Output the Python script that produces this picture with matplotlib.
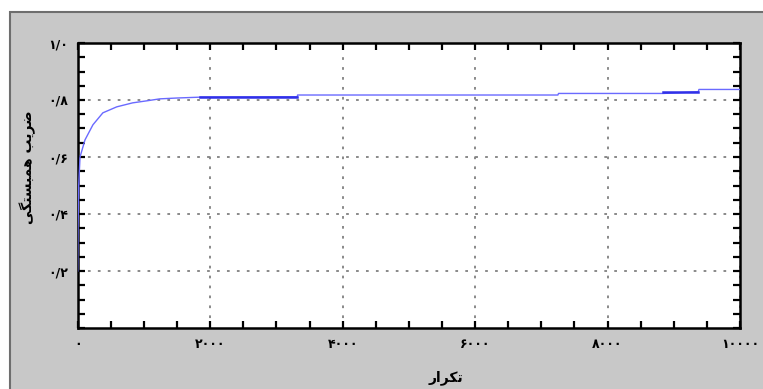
import matplotlib
matplotlib.use('Agg')
from matplotlib import pyplot as plt
from matplotlib.patches import Rectangle

# data (iteration vs. correlation coefficient)
iters = [0, 5, 15, 35, 110, 230, 380, 590, 830, 1040, 1240, 1500, 1850,
         3315, 3320, 6400, 7250, 7260, 8840, 9370, 9380, 10000]
corr = [0.20, 0.35, 0.50, 0.60, 0.66, 0.713, 0.755, 0.776, 0.79, 0.797,
        0.804, 0.807, 0.810, 0.8115, 0.8175, 0.8175, 0.8175, 0.823, 0.823,
        0.829, 0.837, 0.837]
# darker, denser stretches of the curve
dense1_x = [1850, 3315]
dense1_y = [0.8115, 0.8115]
dense2_x = [8840, 9370]
dense2_y = [0.829, 0.829]

xticks = [0, 2000, 4000, 6000, 8000, 10000]
xtick_labels = ['۰', '۲۰۰۰', '۴۰۰۰', '۶۰۰۰', '۸۰۰۰', '۱۰۰۰۰']
yticks = [0.2, 0.4, 0.6, 0.8, 1.0]
ytick_labels = ['۰/۲', '۰/۴', '۰/۶', '۰/۸', '۱/۰']

# pre-shaped persian labels (visual order, presentation forms)
xlabel = '\ufead\ufe8d\ufeae\ufb91\ufe97'                       # تکرار
ylabel = '\ufbfd\ufb95\ufe98\ufeb4\ufe92\ufee4\ufeeb \ufe90\ufbfe\ufeae\ufebf'  # ضریب همبستگی

plt.rcParams['font.family'] = ['DejaVu Sans']

W, H = 763, 389
fig = plt.figure(figsize=(W / 100, H / 100), dpi=100)
fig.patch.set_facecolor('white')
fig.patches.append(Rectangle((10 / W, -0.01), 1.02, 1 - 12 / H + 0.01,
                             transform=fig.transFigure, facecolor='#c8c8c8',
                             edgecolor='#6e6e6e', linewidth=1.5, zorder=-1))

ax = fig.add_axes([77.7 / W, 1 - 328 / H, (740 - 77.7) / W, (328 - 43) / H])
ax.set_zorder(1)
ax.set_facecolor('white')

ax.plot(iters, corr, color='#6a6aff', lw=1.0, zorder=3)
ax.plot(dense1_x, dense1_y, color='#3030e8', lw=1.8, zorder=4)
ax.plot(dense2_x, dense2_y, color='#3030e8', lw=1.8, zorder=4)

ax.set_xlim(0, 10000)
ax.set_ylim(0, 1.0)
ax.set_xticks(xticks)
ax.set_xticklabels(xtick_labels)
ax.set_yticks(yticks)
ax.set_yticklabels(ytick_labels)
ax.set_xticks(range(0, 10001, 500), minor=True)
ax.set_yticks([i * 0.05 for i in range(21)], minor=True)

ax.tick_params(which='both', direction='in', top=True, right=True,
               length=5, width=1.6, color='black')
ax.tick_params(which='major', labelsize=9, pad=7)
for lbl in ax.get_xticklabels() + ax.get_yticklabels():
    lbl.set_fontweight('bold')

for s in ax.spines.values():
    s.set_linewidth(1.8)
    s.set_color('black')

ax.grid(True, which='major', color='#808080', linestyle=(0, (1.5, 4)), lw=1.3)

fig.text(446 / W, 1 - 378 / H, xlabel, ha='center', va='center', fontsize=10,
         fontweight='bold')
fig.text(28 / W, 1 - 167 / H, ylabel, ha='center', va='center', fontsize=10,
         fontweight='bold', rotation=90)

fig.savefig('out.png', dpi=100, facecolor=fig.get_facecolor())
